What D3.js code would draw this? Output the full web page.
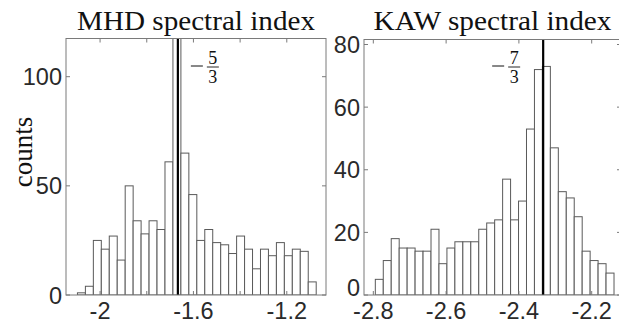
<!DOCTYPE html>
<html><head><meta charset="utf-8">
<script src="https://cdn.jsdelivr.net/npm/d3@7"></script>
<style>body{margin:0;background:#fff}svg{display:block}</style>
</head><body>
<svg id="c" width="619" height="324"></svg>
<script>
// ---- data ----
const mhdTitle = "MHD spectral index";
const kawTitle = "KAW spectral index";
const mhdBinStart = -2.097, mhdBinWidth = 0.0341;
const mhdCounts = [1,4,25,21,27,16,50,34,28,34,30,61,130,65,46,25,30,24,23,19,27,21,12,21,18,24,18,21,20,6];
const kawBinStart = -2.7945, kawBinWidth = 0.02186;
const kawCounts = [5,11,18,15,15,14,14,21,10,15,17,17,17,21,23,24,37,24,30,53,72,73,47,33,31,25,14,11,10,7];
const mhdXTicks = [-2,-1.8,-1.6,-1.4,-1.2];
const mhdXLabels = [-2,-1.6,-1.2];
const mhdYTicks = [0,50,100];
const kawXTicks = [-2.8,-2.6,-2.4,-2.2];
const kawYTicks = [0,20,40,60,80];
const mhdRef = {value:-5/3, num:"5", den:"3"};
const kawRef = {value:-7/3, num:"7", den:"3"};
const yLabel = "counts";

const svg = d3.select("#c");
const axisCol = "#7a7a7a", textCol = "#2a2a2a";

function panel(o){
  const {x0,x1,y0,y1,xdom,ymax,start,width,counts,xticks,xlabels,yticks,ref,title,id,fracDx,zeroLift} = o;
  const x = d3.scaleLinear().domain(xdom).range([x0,x1]);
  const y = d3.scaleLinear().domain([0,ymax]).range([y1,y0]);
  const g = svg.append("g");
  g.append("clipPath").attr("id",id).append("rect").attr("x",x0).attr("y",y0).attr("width",x1-x0).attr("height",y1-y0);
  const bins = counts.map((c,i)=>({a:start+i*width,b:start+(i+1)*width,c}));
  g.append("g").attr("clip-path",`url(#${id})`).selectAll("rect").data(bins).join("rect")
    .attr("x",d=>x(d.a)).attr("width",d=>x(d.b)-x(d.a))
    .attr("y",d=>y(d.c)).attr("height",d=>y(0)-y(d.c))
    .attr("fill","#fff").attr("stroke","#5a5a5a").attr("stroke-width",1);
  // reference line
  g.append("line").attr("x1",x(ref.value)).attr("x2",x(ref.value)).attr("y1",y0).attr("y2",y1)
    .attr("stroke","#000").attr("stroke-width",2.2);
  // frame
  g.append("rect").attr("x",x0).attr("y",y0).attr("width",x1-x0).attr("height",y1-y0)
    .attr("fill","none").attr("stroke",axisCol).attr("stroke-width",1);
  // ticks (inward, both sides)
  const tl = 4;
  xticks.forEach(t=>{
    g.append("line").attr("x1",x(t)).attr("x2",x(t)).attr("y1",y1).attr("y2",y1-tl).attr("stroke",axisCol);
    g.append("line").attr("x1",x(t)).attr("x2",x(t)).attr("y1",y0).attr("y2",y0+tl).attr("stroke",axisCol);
  });
  yticks.forEach(t=>{
    g.append("line").attr("x1",x0).attr("x2",x0+tl).attr("y1",y(t)).attr("y2",y(t)).attr("stroke",axisCol);
    g.append("line").attr("x1",x1).attr("x2",x1-tl).attr("y1",y(t)).attr("y2",y(t)).attr("stroke",axisCol);
  });
  // labels
  const fmt = d=>String(d);
  g.selectAll("text.xl").data(xlabels).join("text").attr("class","xl")
    .attr("x",d=>x(d)).attr("y",y1+24).attr("text-anchor","middle")
    .attr("font-family","Liberation Sans, Arial, sans-serif").attr("font-size",23.5).attr("fill",textCol).text(fmt);
  g.selectAll("text.yl").data(yticks).join("text").attr("class","yl")
    .attr("x",x0-4).attr("y",d=>y(d)+8.5-(d===0?zeroLift:0)).attr("text-anchor","end")
    .attr("font-family","Liberation Sans, Arial, sans-serif").attr("font-size",23.5).attr("fill",textCol).text(fmt);
  // title
  g.append("text").attr("x",(x0+x1)/2).attr("y",30).attr("text-anchor","middle")
    .attr("font-family","Liberation Serif, DejaVu Serif, serif").attr("font-size",28).attr("fill","#111")
    .attr("textLength",238).attr("lengthAdjust","spacingAndGlyphs").text(title);
  // fraction label
  const fx = x(ref.value)+fracDx, fy = 66;
  const fg = g.append("g").attr("font-family","Liberation Serif, DejaVu Serif, serif").attr("fill","#111");
  fg.append("line").attr("x1",fx).attr("x2",fx+12).attr("y1",fy).attr("y2",fy).attr("stroke","#111").attr("stroke-width",1);
  fg.append("line").attr("x1",fx+16).attr("x2",fx+28).attr("y1",fy+1).attr("y2",fy+1).attr("stroke","#111").attr("stroke-width",0.9);
  fg.append("text").attr("x",fx+22).attr("y",fy-2.5).attr("text-anchor","middle").attr("font-size",18).text(ref.num);
  fg.append("text").attr("x",fx+22).attr("y",fy+17).attr("text-anchor","middle").attr("font-size",18).text(ref.den);
}

panel({x0:66,x1:326,y0:38.5,y1:295,xdom:[-2.146,-1.032],ymax:117.5,start:mhdBinStart,width:mhdBinWidth,
  counts:mhdCounts,xticks:mhdXTicks,xlabels:mhdXLabels,yticks:mhdYTicks,ref:mhdRef,title:mhdTitle,id:"cl1",fracDx:13,zeroLift:0});
panel({x0:364,x1:621,y0:39.5,y1:295,xdom:[-2.8256,-2.1195],ymax:81.6,start:kawBinStart,width:kawBinWidth,
  counts:kawCounts,xticks:kawXTicks,xlabels:kawXTicks,yticks:kawYTicks,ref:kawRef,title:kawTitle,id:"cl2",fracDx:-51,zeroLift:8});

svg.append("text").attr("transform","translate(32,152) rotate(-90)").attr("text-anchor","middle")
  .attr("font-family","Liberation Serif, DejaVu Serif, serif").attr("font-size",27).attr("fill","#111").text(yLabel);
</script>
</body></html>
